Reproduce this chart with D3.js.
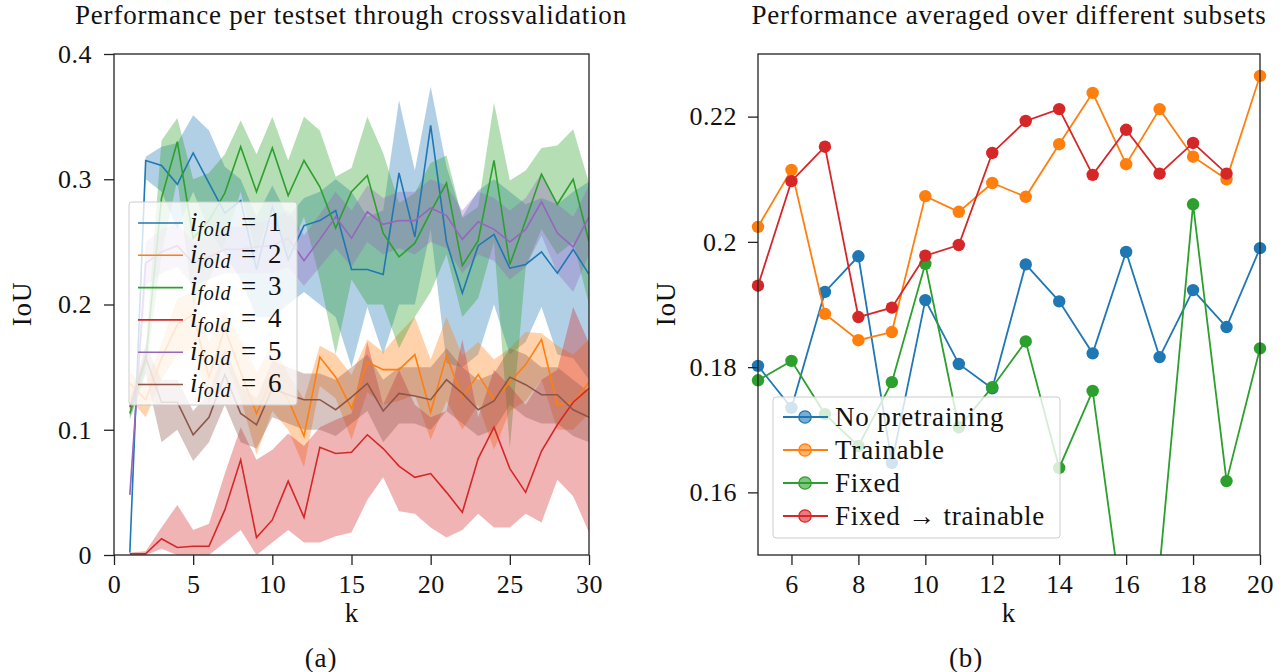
<!DOCTYPE html>
<html>
<head>
<meta charset="utf-8">
<script src="https://cdn.jsdelivr.net/npm/d3@7"></script>
<style>
  html, body { margin: 0; padding: 0; background: #fff; }
  svg text { font-family: 'Liberation Serif', 'DejaVu Serif', serif; fill: #111; }
</style>
</head>
<body>
<svg id="chart" width="1283" height="672"></svg>
<script>
// === Data: left panel (per fold, mean + band) ===
const K_LEFT = [1, 2, 3, 4, 5, 6, 7, 8, 9, 10, 11, 12, 13, 14, 15, 16, 17, 18, 19, 20, 21, 22, 23, 24, 25, 26, 27, 28, 29, 30];

const FOLD1_MEAN = [0.002, 0.315, 0.311, 0.296, 0.321, 0.297, 0.273, 0.283, 0.228, 0.278, 0.236, 0.263, 0.267, 0.275, 0.228, 0.228, 0.224, 0.305, 0.254, 0.343, 0.250, 0.209, 0.247, 0.256, 0.229, 0.232, 0.242, 0.225, 0.244, 0.224];
const FOLD1_LO   = [0.000, 0.300, 0.290, 0.260, 0.290, 0.260, 0.240, 0.220, 0.190, 0.190, 0.200, 0.210, 0.200, 0.190, 0.150, 0.198, 0.160, 0.200, 0.200, 0.260, 0.153, 0.150, 0.160, 0.200, 0.160, 0.170, 0.198, 0.160, 0.157, 0.140];
const FOLD1_HI   = [0.004, 0.318, 0.326, 0.329, 0.351, 0.339, 0.310, 0.300, 0.270, 0.295, 0.270, 0.285, 0.290, 0.300, 0.290, 0.270, 0.275, 0.363, 0.307, 0.374, 0.310, 0.270, 0.291, 0.300, 0.290, 0.280, 0.285, 0.280, 0.290, 0.298];

const FOLD2_MEAN = [0.137, 0.124, 0.157, 0.184, 0.192, 0.142, 0.181, 0.146, 0.113, 0.141, 0.124, 0.095, 0.158, 0.142, 0.117, 0.154, 0.148, 0.148, 0.160, 0.114, 0.159, 0.126, 0.144, 0.124, 0.138, 0.152, 0.172, 0.120, 0.122, 0.138];
const FOLD2_LO   = [0.125, 0.110, 0.140, 0.160, 0.165, 0.120, 0.155, 0.125, 0.080, 0.115, 0.100, 0.070, 0.135, 0.125, 0.092, 0.130, 0.120, 0.123, 0.128, 0.092, 0.123, 0.100, 0.120, 0.084, 0.115, 0.123, 0.140, 0.100, 0.100, 0.113];
const FOLD2_HI   = [0.145, 0.137, 0.169, 0.205, 0.210, 0.170, 0.195, 0.172, 0.146, 0.168, 0.145, 0.124, 0.167, 0.160, 0.144, 0.172, 0.162, 0.177, 0.190, 0.156, 0.190, 0.159, 0.170, 0.156, 0.165, 0.178, 0.177, 0.167, 0.160, 0.172];

const FOLD3_MEAN = [0.113, 0.155, 0.285, 0.330, 0.253, 0.267, 0.289, 0.326, 0.290, 0.325, 0.287, 0.315, 0.294, 0.261, 0.290, 0.303, 0.257, 0.238, 0.249, 0.274, 0.297, 0.231, 0.251, 0.315, 0.232, 0.267, 0.304, 0.280, 0.300, 0.250];
const FOLD3_LO   = [0.108, 0.145, 0.240, 0.300, 0.200, 0.220, 0.250, 0.290, 0.240, 0.280, 0.240, 0.270, 0.220, 0.160, 0.220, 0.200, 0.200, 0.165, 0.190, 0.210, 0.240, 0.190, 0.205, 0.250, 0.085, 0.230, 0.260, 0.240, 0.250, 0.200];
const FOLD3_HI   = [0.118, 0.165, 0.331, 0.349, 0.300, 0.305, 0.320, 0.347, 0.320, 0.350, 0.315, 0.350, 0.339, 0.302, 0.309, 0.350, 0.321, 0.281, 0.289, 0.313, 0.319, 0.269, 0.278, 0.361, 0.299, 0.307, 0.325, 0.327, 0.340, 0.297];

const FOLD4_MEAN = [0.001, 0.001, 0.013, 0.006, 0.007, 0.007, 0.036, 0.076, 0.014, 0.028, 0.059, 0.030, 0.086, 0.081, 0.082, 0.096, 0.085, 0.071, 0.062, 0.065, 0.050, 0.034, 0.077, 0.102, 0.069, 0.050, 0.083, 0.104, 0.122, 0.133];
const FOLD4_LO   = [0.000, 0.000, 0.005, 0.000, 0.000, 0.000, 0.010, 0.020, 0.000, 0.010, 0.020, 0.010, 0.010, 0.015, 0.018, 0.044, 0.062, 0.035, 0.033, 0.022, 0.014, 0.020, 0.033, 0.022, 0.022, 0.033, 0.026, 0.060, 0.047, 0.018];
const FOLD4_HI   = [0.002, 0.003, 0.022, 0.040, 0.020, 0.025, 0.065, 0.102, 0.076, 0.084, 0.097, 0.087, 0.102, 0.108, 0.113, 0.170, 0.120, 0.148, 0.120, 0.110, 0.115, 0.172, 0.110, 0.148, 0.135, 0.120, 0.140, 0.148, 0.198, 0.169];

const FOLD5_MEAN = [0.048, 0.233, 0.242, 0.247, 0.233, 0.238, 0.244, 0.244, 0.246, 0.247, 0.253, 0.235, 0.252, 0.270, 0.253, 0.274, 0.264, 0.267, 0.267, 0.277, 0.271, 0.252, 0.266, 0.260, 0.250, 0.260, 0.282, 0.257, 0.246, 0.270];
const FOLD5_LO   = [0.045, 0.215, 0.225, 0.230, 0.215, 0.220, 0.225, 0.225, 0.225, 0.225, 0.230, 0.215, 0.230, 0.245, 0.230, 0.250, 0.240, 0.245, 0.240, 0.250, 0.245, 0.225, 0.240, 0.235, 0.220, 0.230, 0.255, 0.225, 0.210, 0.240];
const FOLD5_HI   = [0.050, 0.250, 0.260, 0.265, 0.250, 0.255, 0.262, 0.262, 0.265, 0.268, 0.275, 0.255, 0.272, 0.290, 0.275, 0.295, 0.285, 0.290, 0.290, 0.300, 0.295, 0.275, 0.290, 0.285, 0.275, 0.285, 0.305, 0.280, 0.270, 0.295];

const FOLD6_MEAN = [0.118, 0.158, 0.122, 0.122, 0.096, 0.110, 0.144, 0.113, 0.104, 0.133, 0.128, 0.124, 0.124, 0.116, 0.126, 0.137, 0.115, 0.129, 0.127, 0.124, 0.140, 0.129, 0.116, 0.123, 0.142, 0.136, 0.128, 0.128, 0.116, 0.110];
const FOLD6_LO   = [0.110, 0.145, 0.090, 0.100, 0.075, 0.090, 0.120, 0.090, 0.085, 0.110, 0.105, 0.100, 0.100, 0.095, 0.105, 0.115, 0.090, 0.105, 0.105, 0.100, 0.115, 0.105, 0.095, 0.100, 0.120, 0.110, 0.105, 0.105, 0.095, 0.090];
const FOLD6_HI   = [0.125, 0.168, 0.140, 0.140, 0.115, 0.130, 0.165, 0.135, 0.125, 0.155, 0.150, 0.145, 0.145, 0.140, 0.150, 0.160, 0.140, 0.150, 0.150, 0.150, 0.165, 0.150, 0.140, 0.145, 0.165, 0.160, 0.150, 0.150, 0.140, 0.130];

// === Data: right panel (averaged over subsets) ===
const K_RIGHT = [5, 6, 7, 8, 9, 10, 11, 12, 13, 14, 15, 16, 17, 18, 19, 20];
const NO_PRETRAIN  = [0.1802, 0.1735, 0.1920, 0.1977, 0.1647, 0.1907, 0.1805, 0.1766, 0.1964, 0.1905, 0.1822, 0.1984, 0.1816, 0.1923, 0.1864, 0.1990];
const TRAINABLE    = [0.2024, 0.2115, 0.1885, 0.1843, 0.1856, 0.2073, 0.2048, 0.2094, 0.2072, 0.2156, 0.2238, 0.2124, 0.2212, 0.2136, 0.2100, 0.2265];
const FIXED        = [0.1779, 0.1810, 0.1725, 0.1674, 0.1776, 0.1965, 0.1704, 0.1768, 0.1841, 0.1639, 0.1762, 0.1370, 0.1480, 0.2060, 0.1618, 0.1830];
const FIXED_TRAIN  = [0.1930, 0.2097, 0.2152, 0.1880, 0.1895, 0.1978, 0.1995, 0.2142, 0.2193, 0.2212, 0.2107, 0.2179, 0.2109, 0.2158, 0.2109];

const SERIES_NAMES = ['No pretraining', 'Trainable', 'Fixed', 'Fixed \u2192 trainable'];
const TAB10 = ['#1f77b4', '#ff7f0e', '#2ca02c', '#d62728', '#9467bd', '#8c564b'];

// === Layout ===
const FONT_SIZE = 27;      // titles, labels, legend
const TICK_SIZE = 26;      // tick labels
const SPACING = '0.8px';   // widen Times-like glyphs towards Computer Modern
const AXIS_COLOR = '#222';
const L = { left: 114, right: 589, top: 54, bottom: 555 };
const R = { left: 758, right: 1260, top: 54, bottom: 555 };

const svg = d3.select('#chart');

// --- helpers ---
function frame(g, box) {
  g.append('rect')
    .attr('x', box.left).attr('y', box.top)
    .attr('width', box.right - box.left).attr('height', box.bottom - box.top)
    .attr('fill', 'none').attr('stroke', AXIS_COLOR).attr('stroke-width', 1.3);
}

function styleAxis(g) {
  g.select('.domain').remove();
  g.selectAll('.tick line').attr('stroke', AXIS_COLOR).attr('stroke-width', 1.3);
  g.selectAll('.tick text')
    .attr('font-family', "'Liberation Serif', 'DejaVu Serif', serif")
    .attr('font-size', TICK_SIZE).attr('fill', '#111')
    .attr('letter-spacing', '0.5px');
}

function label(x, y, txt, opts = {}) {
  const t = svg.append('text')
    .attr('x', x).attr('y', y)
    .attr('text-anchor', opts.anchor || 'middle')
    .attr('font-size', FONT_SIZE)
    .attr('letter-spacing', SPACING)
    .text(txt);
  if (opts.rotate) t.attr('x', null).attr('y', null).attr('transform', `translate(${x},${y}) rotate(-90)`);
  return t;
}

// ================= LEFT PANEL =================
const xL = d3.scaleLinear().domain([0, 30]).range([L.left, L.right]);
const yL = d3.scaleLinear().domain([0, 0.4]).range([L.bottom, L.top]);

const folds = [
  { n: 1, mean: FOLD1_MEAN, lo: FOLD1_LO, hi: FOLD1_HI },
  { n: 2, mean: FOLD2_MEAN, lo: FOLD2_LO, hi: FOLD2_HI },
  { n: 3, mean: FOLD3_MEAN, lo: FOLD3_LO, hi: FOLD3_HI },
  { n: 4, mean: FOLD4_MEAN, lo: FOLD4_LO, hi: FOLD4_HI },
  { n: 5, mean: FOLD5_MEAN, lo: FOLD5_LO, hi: FOLD5_HI },
  { n: 6, mean: FOLD6_MEAN, lo: FOLD6_LO, hi: FOLD6_HI }
].map((f, i) => ({
  ...f,
  color: TAB10[i],
  rows: K_LEFT.map((k, j) => ({ k, m: f.mean[j], lo: f.lo[j], hi: f.hi[j] }))
}));

svg.append('clipPath').attr('id', 'clipL')
  .append('rect').attr('x', L.left).attr('y', L.top)
  .attr('width', L.right - L.left).attr('height', L.bottom - L.top);

const plotL = svg.append('g').attr('clip-path', 'url(#clipL)');

const area = d3.area().x(d => xL(d.k)).y0(d => yL(d.lo)).y1(d => yL(d.hi));
const lineL = d3.line().x(d => xL(d.k)).y(d => yL(d.m));

plotL.selectAll('path.band')
  .data(folds)
  .join('path')
  .attr('class', 'band')
  .attr('d', d => area(d.rows))
  .attr('fill', d => d.color)
  .attr('fill-opacity', 0.35);

plotL.selectAll('path.mean')
  .data(folds)
  .join('path')
  .attr('class', 'mean')
  .attr('d', d => lineL(d.rows))
  .attr('fill', 'none')
  .attr('stroke', d => d.color)
  .attr('stroke-width', 1.6);

const gxL = svg.append('g').attr('transform', `translate(0,${L.bottom})`)
  .call(d3.axisBottom(xL).tickValues([0, 5, 10, 15, 20, 25, 30]).tickSize(10).tickPadding(10).tickSizeOuter(0));
styleAxis(gxL);

const gyL = svg.append('g').attr('transform', `translate(${L.left},0)`)
  .call(d3.axisLeft(yL).tickValues([0, 0.1, 0.2, 0.3, 0.4]).tickFormat(d3.format('')).tickSize(10).tickPadding(12).tickSizeOuter(0));
styleAxis(gyL);

frame(svg, L);

// legend (left)
const legL = svg.append('g');
legL.append('rect')
  .attr('x', 129).attr('y', 202).attr('width', 168).attr('height', 203).attr('rx', 3)
  .attr('fill', '#fff').attr('fill-opacity', 0.8)
  .attr('stroke', '#ccc').attr('stroke-width', 1);

folds.forEach((f, i) => {
  const y = 223 + i * 32.3;
  legL.append('line')
    .attr('x1', 138).attr('x2', 183).attr('y1', y).attr('y2', y)
    .attr('stroke', f.color).attr('stroke-width', 1.6);
  const t = legL.append('text').attr('x', 190).attr('y', y + 7.5).attr('font-size', FONT_SIZE);
  t.append('tspan').attr('font-style', 'italic').text('i');
  t.append('tspan').attr('font-style', 'italic').attr('font-size', 20).attr('dy', 5)
    .attr('letter-spacing', '0.6px').text('fold');
  t.append('tspan').attr('x', 241).attr('dy', -5).text('=');
  t.append('tspan').attr('x', 268).text(f.n);
});

// titles / labels (left)
label(351, 24, 'Performance per testset through crossvalidation');
label(352, 622, 'k');
label(31, 304, 'IoU', { rotate: true });
label(321, 667, '(a)');

// ================= RIGHT PANEL =================
const xR = d3.scaleLinear().domain([5, 20]).range([R.left, R.right]);
const yR = d3.scaleLinear().domain([0.15, 0.23]).range([R.bottom, R.top]);

const series = [NO_PRETRAIN, TRAINABLE, FIXED, FIXED_TRAIN].map((vals, i) => ({
  name: SERIES_NAMES[i],
  color: TAB10[i],
  rows: vals.map((v, j) => ({ k: K_RIGHT[j], v }))
}));

svg.append('clipPath').attr('id', 'clipR')
  .append('rect').attr('x', R.left).attr('y', R.top)
  .attr('width', R.right - R.left).attr('height', R.bottom - R.top);

const lineR = d3.line().x(d => xR(d.k)).y(d => yR(d.v));

const sG = svg.append('g').selectAll('g')
  .data(series)
  .join('g');

sG.append('path')
  .attr('clip-path', 'url(#clipR)')
  .attr('d', d => lineR(d.rows))
  .attr('fill', 'none')
  .attr('stroke', d => d.color)
  .attr('stroke-width', 1.8);

// markers are hidden only when their centre leaves the axes
sG.each(function (d) {
  d3.select(this).selectAll('circle')
    .data(d.rows.filter(r => r.v >= 0.15 && r.v <= 0.23))
    .join('circle')
    .attr('cx', r => xR(r.k))
    .attr('cy', r => yR(r.v))
    .attr('r', 6.2)
    .attr('fill', d.color);
});

const gxR = svg.append('g').attr('transform', `translate(0,${R.bottom})`)
  .call(d3.axisBottom(xR).tickValues([6, 8, 10, 12, 14, 16, 18, 20]).tickSize(10).tickPadding(10).tickSizeOuter(0));
styleAxis(gxR);

const gyR = svg.append('g').attr('transform', `translate(${R.left},0)`)
  .call(d3.axisLeft(yR).tickValues([0.16, 0.18, 0.2, 0.22]).tickFormat(d3.format('')).tickSize(10).tickPadding(11).tickSizeOuter(0));
styleAxis(gyR);

frame(svg, R);

// legend (right)
const legR = svg.append('g');
legR.append('rect')
  .attr('x', 773).attr('y', 397).attr('width', 287).attr('height', 141).attr('rx', 3)
  .attr('fill', '#fff').attr('fill-opacity', 0.8)
  .attr('stroke', '#ccc').attr('stroke-width', 1);

series.forEach((s, i) => {
  const y = 417 + i * 33;
  legR.append('line')
    .attr('x1', 783).attr('x2', 828).attr('y1', y).attr('y2', y)
    .attr('stroke', s.color).attr('stroke-width', 1.8);
  legR.append('circle')
    .attr('cx', 805).attr('cy', y).attr('r', 6.2)
    .attr('fill', s.color).attr('fill-opacity', 0.6)
    .attr('stroke', s.color).attr('stroke-width', 1.3);
  legR.append('text').attr('x', 835).attr('y', y + 8.5)
    .attr('font-size', FONT_SIZE).attr('letter-spacing', SPACING).text(s.name);
});

// titles / labels (right)
label(1009, 24, 'Performance averaged over different subsets');
label(1009, 622, 'k');
label(675, 304, 'IoU', { rotate: true });
label(966, 667, '(b)');
</script>
</body>
</html>
